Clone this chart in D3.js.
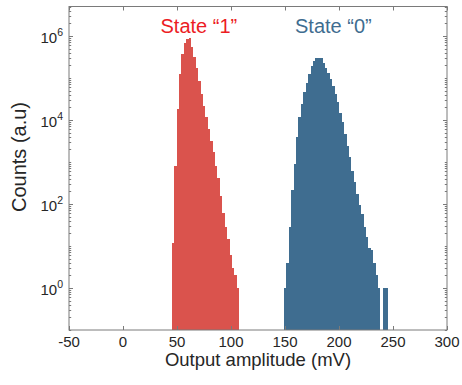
<!DOCTYPE html>
<html>
<head>
<meta charset="utf-8">
<script src="https://cdn.jsdelivr.net/npm/d3@7"></script>
<style>
  html, body { margin: 0; padding: 0; background: #fff; }
  svg { display: block; font-family: "Liberation Sans", Arial, Helvetica, sans-serif; }
</style>
</head>
<body>
<svg id="chart" width="462" height="385"></svg>
<script>
// ---- data ----
const binWidth = 2.23;               // mV
const state1Start = 45.1;            // mV, left edge of first "1" bin
const state0Start = 149.1;           // mV, left edge of first "0" bin
const state1Counts = [12, 820, 18400, 124000, 370000, 690000, 830000, 870000, 540000, 310000,
  173000, 85000, 42000, 21700, 11900, 6200, 3200, 1760, 780, 404,
  151, 60, 28, 15, 6, 3, 2, 1];
const state0Counts = [1, 4, 28, 210, 900, 3850, 11500, 23800, 45000, 77000,
  122000, 192000, 253000, 290000, 303000, 290000, 230000, 175000, 134000, 93000,
  65000, 41000, 26000, 15000, 8700, 4600, 2450, 1290, 625, 330,
  175, 93, 59, 28, 16, 9, 8, 4, 2, 1, 0, 1, 1];
const xTicks = [-50, 0, 50, 100, 150, 200, 250, 300];
const yMajor = [0, 2, 4, 6];          // exponents of labelled ticks
const labels = { state1: "State \u201c1\u201d", state0: "State \u201c0\u201d",
  x: "Output amplitude (mV)", y: "Counts (a.u)" };

// ---- layout ----
const L = 69, R = 447, T = 6.5, B = 330;
const x = d3.scaleLinear().domain([-50, 300]).range([L, R]);
const y = d3.scaleLog().domain([0.1, 5e6]).range([B, T]);
const svg = d3.select("#chart");

function bins(start, counts) {
  return counts.map((c, i) => ({ x0: start + i * binWidth, x1: start + (i + 1) * binWidth, c }))
               .filter(d => d.c > 0);
}

const series = [
  { data: bins(state1Start, state1Counts), fill: "#da534d" },
  { data: bins(state0Start, state0Counts), fill: "#3f6d90" }
];

const plot = svg.append("g").attr("shape-rendering", "crispEdges");
series.forEach(s => {
  plot.selectAll(null).data(s.data).enter().append("rect")
    .attr("x", d => x(d.x0))
    .attr("width", d => x(d.x1) - x(d.x0))
    .attr("y", d => y(d.c))
    .attr("height", d => B - y(d.c))
    .attr("fill", s.fill);
});

// ---- axes ----
const axisColor = "#7a7a7a";
const textColor = "#262626";

// minor/major y ticks on left and right
const yMinor = [];
for (let e = -1; e <= 6; e++) for (let m = 1; m <= 9; m++) {
  const v = m * Math.pow(10, e);
  if (v >= 0.1 && v <= 5e6) yMinor.push(v);
}
const tickG = svg.append("g").attr("stroke", axisColor).attr("stroke-width", 1);
yMinor.forEach(v => {
  const isMajor = yMajor.some(e => Math.abs(Math.log10(v) - e) < 1e-9);
  const len = isMajor ? 4 : 2.2;
  const yy = Math.round(y(v)) + 0.5;
  tickG.append("line").attr("x1", L).attr("x2", L + len).attr("y1", yy).attr("y2", yy);
  tickG.append("line").attr("x1", R).attr("x2", R - len).attr("y1", yy).attr("y2", yy);
});
xTicks.forEach(v => {
  const xx = Math.round(x(v)) + 0.5;
  tickG.append("line").attr("x1", xx).attr("x2", xx).attr("y1", B).attr("y2", B - 4);
  tickG.append("line").attr("x1", xx).attr("x2", xx).attr("y1", T).attr("y2", T + 4);
});

// frame
svg.append("rect").attr("x", L).attr("y", T).attr("width", R - L).attr("height", B - T)
  .attr("fill", "none").attr("stroke", axisColor).attr("stroke-width", 1);

// x tick labels
svg.append("g").selectAll("text").data(xTicks).enter().append("text")
  .attr("x", d => x(d)).attr("y", 347)
  .attr("text-anchor", "middle").attr("font-size", 15).attr("fill", textColor)
  .text(d => d);

// y tick labels 10^n
yMajor.forEach(e => {
  const t = svg.append("text").attr("x", 63).attr("y", y(Math.pow(10, e)) + 7)
    .attr("text-anchor", "end").attr("font-size", 15).attr("fill", textColor);
  t.append("tspan").text("10");
  t.append("tspan").attr("font-size", 10.5).attr("dy", -6.5).text(e);
});

// axis titles
svg.append("text").attr("x", (L + R) / 2).attr("y", 366)
  .attr("text-anchor", "middle").attr("font-size", 18.5).attr("fill", textColor)
  .text(labels.x);
svg.append("text").attr("transform", "translate(26,157) rotate(-90)")
  .attr("text-anchor", "middle").attr("font-size", 20).attr("fill", textColor)
  .text(labels.y);

// state annotations
svg.append("text").attr("x", 160.5).attr("y", 33).attr("font-size", 20)
  .attr("fill", "#ec1c24").text(labels.state1);
svg.append("text").attr("x", 295).attr("y", 33).attr("font-size", 20)
  .attr("fill", "#3f6d90").text(labels.state0);
</script>
</body>
</html>
